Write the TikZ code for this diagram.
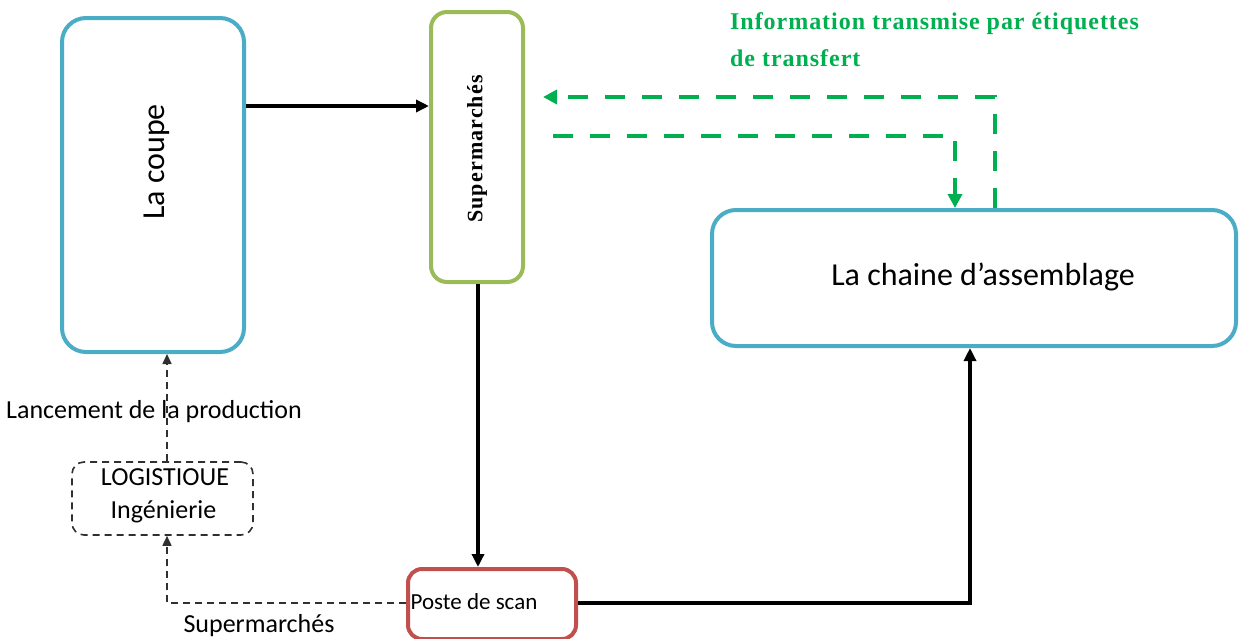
\documentclass[tikz,border=0pt]{standalone}
\usepackage{fontspec}
\setmainfont{Carlito}
\newfontfamily\timesbold[LetterSpace=5]{Liberation Serif}
\newfontfamily\timesinfo[LetterSpace=4]{Liberation Serif}
\usetikzlibrary{arrows.meta}
\definecolor{boxblue}{HTML}{4BACC6}
\definecolor{boxgreen}{HTML}{9BBB59}
\definecolor{boxred}{HTML}{C0504D}
\definecolor{infogreen}{HTML}{00B050}
\definecolor{dashgray}{HTML}{303030}
\tikzset{
  procbox/.style={draw, line width=4pt, rounded corners=24pt, fill=white, inner sep=0pt},
  flow/.style={line width=3.5pt, -{Triangle[length=13pt,width=12pt]}},
  infoflow/.style={infogreen, line width=4pt, dash pattern=on 20pt off 17pt, -{Triangle[length=14pt,width=14pt]}},
  ctrlflow/.style={dashgray, line width=1.6pt, dash pattern=on 7pt off 5pt, -{Triangle[length=10pt,width=9pt]}},
  lbl/.style={inner sep=0pt, font=\fontsize{26}{30}\selectfont},
}
\begin{document}
\begin{tikzpicture}[x=1pt,y=-1pt]
\useasboundingbox (0,0) rectangle (1239,638);
\clip (0,0) rectangle (1239,638);

% process boxes
\node[procbox, draw=boxblue, minimum width=182pt, minimum height=334pt] (coupe) at (153,185) {};
\node[rotate=90, font=\fontsize{32}{36}\selectfont] at (157,162) {La coupe};

\node[procbox, draw=boxgreen, rounded corners=16pt, minimum width=92pt, minimum height=270pt] (super) at (477,147) {};
\node[rotate=90, font=\fontsize{22}{26}\selectfont\timesbold\bfseries] at (477,149) {Supermarchés};

\node[procbox, draw=boxblue, minimum width=524pt, minimum height=136pt] (chaine) at (974,278) {};
\node[font=\fontsize{32}{36}\selectfont] at (983,277) {La chaine d’assemblage};

\node[procbox, draw=boxred, rounded corners=14pt, minimum width=168pt, minimum height=70pt] (scan) at (492,604) {};
\node[inner sep=0pt, font=\fontsize{23}{26}\selectfont] at (474,602) {Poste de scan};

\node[draw=dashgray, line width=1.6pt, dash pattern=on 7pt off 5pt, rounded corners=12pt, minimum width=181pt, minimum height=73pt, inner sep=0pt] (logi) at (162.5,498.5) {};
\node[lbl] at (165,477) {LOGISTIOUE};
\node[lbl] at (163.5,512) {Ingénierie};

% labels
\node[lbl] at (154,412) {Lancement de la production};
\node[lbl] at (259,626) {Supermarchés};
\node[anchor=north west, align=left, text=infogreen, inner sep=0pt,
      font=\fontsize{24}{37}\selectfont\timesinfo\bfseries] at (730,12) {Information transmise par étiquettes\\de transfert};

% material flow
\draw[flow] (coupe.east |- 0,106) -- (super.west |- 0,106);
\draw[flow] (super.south -| 478,0) -- (scan.north -| 478,0);
\draw[flow] (scan.east |- 0,603) -- (970,603) -- (chaine.south -| 970,0);

% information flow
\draw[infoflow] (chaine.north -| 995,0) -- (995,97) -- (543,97);
\draw[infoflow] (553,136) -- (955,136) -- (chaine.north -| 955,0);

% control flow
\draw[ctrlflow] (scan.west |- 0,603) -- (167,603) -- (logi.south -| 167,0);
\draw[ctrlflow] (logi.north -| 167,0) -- (coupe.south -| 167,0);
\end{tikzpicture}
\end{document}
